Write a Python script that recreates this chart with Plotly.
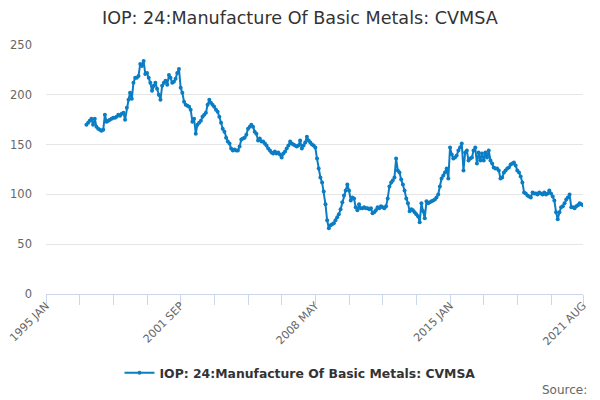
import pandas as pd
import plotly.graph_objects as go

# Monthly index values, Jan 1997 .. Aug 2021
v1997 = [170, 172, 174, 176, 170, 176, 168, 166, 165, 164, 165, 180]
v1998 = [173, 174, 175, 176, 177, 177, 178, 180, 179, 181, 182, 175]
v1999 = [187, 195, 202, 196, 212, 217, 217, 219, 231, 229, 234, 221]
v2000 = [222, 217, 212, 204, 209, 212, 206, 200, 195, 209, 212, 214]
v2001 = [210, 220, 217, 212, 213, 216, 222, 226, 207, 202, 193, 190]
v2002 = [189, 188, 185, 173, 176, 161, 170, 172, 174, 178, 180, 182]
v2003 = [190, 195, 192, 190, 188, 185, 183, 178, 172, 166, 163, 157]
v2004 = [153, 151, 146, 144, 145, 144, 144, 148, 155, 156, 157, 160]
v2005 = [166, 168, 170, 168, 163, 161, 154, 156, 153, 153, 151, 149]
v2006 = [146, 144, 142, 141, 143, 141, 142, 140, 137, 141, 143, 146]
v2007 = [149, 153, 151, 150, 149, 148, 149, 154, 146, 149, 152, 158]
v2008 = [154, 152, 150, 149, 147, 136, 126, 117, 112, 103, 90, 74]
v2009 = [66, 69, 70, 71, 74, 77, 80, 85, 92, 99, 104, 110]
v2010 = [104, 94, 97, 96, 87, 84, 90, 86, 86, 87, 86, 86]
v2011 = [85, 86, 81, 82, 84, 87, 86, 88, 87, 86, 88, 96]
v2012 = [108, 112, 114, 117, 136, 124, 122, 115, 110, 104, 96, 91]
v2013 = [83, 85, 84, 82, 80, 78, 72, 91, 83, 76, 93, 91]
v2014 = [92, 93, 94, 95, 97, 100, 108, 116, 119, 122, 126, 116]
v2015 = [147, 140, 136, 137, 139, 144, 147, 151, 124, 142, 144, 134]
v2016 = [136, 137, 144, 147, 131, 142, 134, 141, 134, 142, 137, 144]
v2017 = [134, 131, 127, 126, 126, 124, 116, 117, 122, 124, 126, 127]
v2018 = [130, 131, 132, 129, 124, 122, 118, 112, 102, 101, 99, 98]
v2019 = [97, 102, 101, 101, 100, 102, 101, 100, 102, 100, 101, 104]
v2020 = [101, 98, 94, 82, 75, 82, 87, 88, 91, 95, 97, 100]
v2021 = [87, 87, 86, 88, 89, 91, 90, 89]

values = (v1997 + v1998 + v1999 + v2000 + v2001 + v2002 + v2003 + v2004 + v2005
          + v2006 + v2007 + v2008 + v2009 + v2010 + v2011 + v2012 + v2013
          + v2014 + v2015 + v2016 + v2017 + v2018 + v2019 + v2020 + v2021)
dates = pd.date_range("1997-01-01", periods=len(values), freq="MS")

# x ticks every 20 months, label every 4th
tick_dates = list(pd.date_range("1995-01-01", periods=16, freq="20MS")) + [pd.Timestamp("2021-08-01")]
tick_labels = ["1995 JAN", "", "", "", "2001 SEP", "", "", "", "2008 MAY",
               "", "", "", "2015 JAN", "", "", "", "2021 AUG"]

series_name = "IOP: 24:Manufacture Of Basic Metals: CVMSA"
line_color = "#0b7dc4"

fig = go.Figure()
fig.add_trace(go.Scatter(
    x=dates, y=values,
    mode="lines+markers",
    name="<b>" + series_name + "</b>",
    line=dict(color=line_color, width=2),
    marker=dict(color=line_color, size=4),
))

# page body has an 8px margin, so the figure is 8px smaller than the window
fig.update_layout(
    width=592, height=392,
    margin=dict(l=38, r=17, t=37, b=106, autoexpand=False),
    paper_bgcolor="white",
    plot_bgcolor="white",
    font=dict(family="DejaVu Sans", color="#666666", size=11),
    title=dict(text=series_name, x=0.493, xanchor="center", y=0.974, yanchor="middle",
               font=dict(size=17.6, color="#333333")),
    showlegend=True,
    legend=dict(orientation="h", x=0.473, xanchor="center", y=-0.318, yanchor="middle",
                font=dict(size=12.4, color="#333333")),
)

fig.update_xaxes(
    range=[pd.Timestamp("1995-01-01"), pd.Timestamp("2021-08-01")],
    tickvals=tick_dates, ticktext=tick_labels, tickangle=-45,
    ticks="outside", ticklen=10, tickcolor="#ccd6eb",
    ticklabelstandoff=-10, ticklabeloverflow="allow",
    showline=True, linecolor="#ccd6eb", linewidth=1,
    showgrid=False, zeroline=False, automargin=False,
)
fig.update_yaxes(
    range=[0, 250], dtick=50, tickfont=dict(size=11.5),
    showgrid=True, gridcolor="#e6e6e6", zeroline=False,
    showline=False, ticks="", ticklabelstandoff=13, automargin=False,
)

fig.add_annotation(text="Source:", xref="paper", yref="paper", x=1.012, y=-0.385,
                   xanchor="right", yanchor="middle", showarrow=False,
                   font=dict(size=12, color="#666666"))

fig.write_html("out.html", config={"displayModeBar": False})
